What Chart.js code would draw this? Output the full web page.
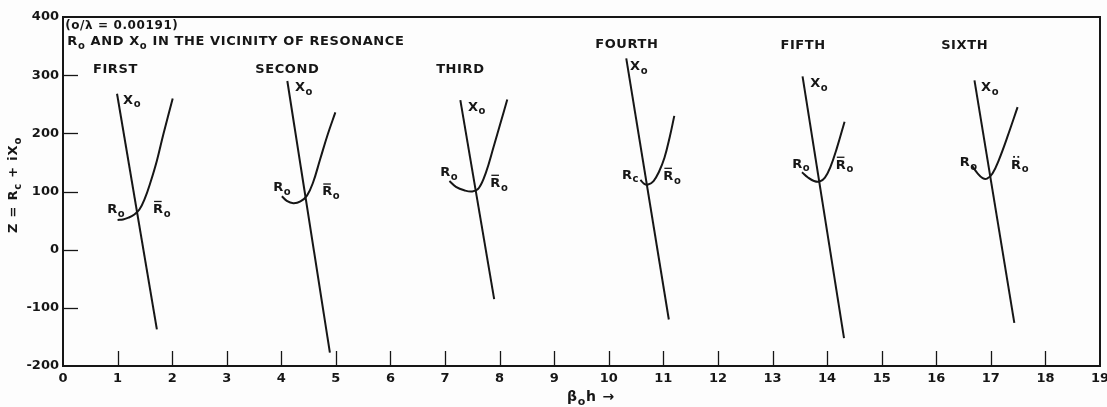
<!DOCTYPE html>
<html>
<head>
<meta charset="utf-8">
<script src="https://cdn.jsdelivr.net/npm/chart.js@4"></script>
<style>
  html, body { margin: 0; padding: 0; background: #fdfdfd; }
  #wrap { width: 1107px; height: 407px; position: relative; }
</style>
</head>
<body>
<div id="wrap"><canvas id="c"></canvas></div>
<script>
// ---- Data ----
const resonances = ['FIRST', 'SECOND', 'THIRD', 'FOURTH', 'FIFTH', 'SIXTH'];
const xTicks = [0,1,2,3,4,5,6,7,8,9,10,11,12,13,14,15,16,17,18,19];
const yTicks = [-200,-100,0,100,200,300,400];

// Reactance X0 (beta0*h, ohms)
const X0_FIRST  = [[0.99, 268], [1.72, -137]];
const X0_SECOND = [[4.11, 290], [4.89, -177]];
const X0_THIRD  = [[7.28, 257], [7.90, -85]];
const X0_FOURTH = [[10.32, 329], [11.10, -120]];
const X0_FIFTH  = [[13.55, 298], [14.31, -152]];
const X0_SIXTH  = [[16.70, 291], [17.43, -126]];

// Resistance R0 (beta0*h, ohms)
const R0_FIRST  = [[1.00,51],[1.10,52],[1.20,55],[1.30,60],[1.40,69],[1.50,88],[1.60,115],[1.72,153],[1.84,199],[2.01,260]];
const R0_SECOND = [[4.01,92],[4.10,84],[4.22,80],[4.35,83],[4.47,93],[4.58,115],[4.71,155],[4.85,198],[4.99,236]];
const R0_THIRD  = [[7.08,118],[7.20,108],[7.35,102],[7.50,100],[7.62,106],[7.75,133],[7.89,177],[8.02,219],[8.14,258]];
const R0_FOURTH = [[10.58,120],[10.65,113],[10.72,112],[10.82,118],[10.92,134],[11.02,158],[11.12,195],[11.20,230]];
const R0_FIFTH  = [[13.54,133],[13.65,124],[13.76,118],[13.86,117],[13.96,124],[14.06,142],[14.18,175],[14.32,220]];
const R0_SIXTH  = [[16.65,145],[16.75,132],[16.85,123],[16.93,122],[17.03,131],[17.15,155],[17.30,193],[17.49,245]];

const X0_ALL = [X0_FIRST, X0_SECOND, X0_THIRD, X0_FOURTH, X0_FIFTH, X0_SIXTH];
const R0_ALL = [R0_FIRST, R0_SECOND, R0_THIRD, R0_FOURTH, R0_FIFTH, R0_SIXTH];

const INK = '#161616';
const FAMILY = '"DejaVu Sans", "Liberation Sans", sans-serif';

const toPts = arr => arr.map(p => ({ x: p[0], y: p[1] }));
const datasets = [];
resonances.forEach((name, i) => {
  datasets.push({ label: 'X0 ' + name, data: toPts(X0_ALL[i]), showLine: true,
    borderColor: INK, borderWidth: 2, pointRadius: 0, tension: 0 });
  datasets.push({ label: 'R0 ' + name, data: toPts(R0_ALL[i]), showLine: true,
    borderColor: INK, borderWidth: 2, pointRadius: 0, tension: 0.4 });
});

// ---- rich text helper (subscripts, overbars) ----
function drawRich(ctx, x, y, parts, size, align, rotate) {
  ctx.save();
  ctx.translate(x, y);
  if (rotate) ctx.rotate(rotate);
  ctx.textBaseline = 'middle';
  ctx.textAlign = 'left';
  let w = 0;
  parts.forEach(p => {
    ctx.font = 'bold ' + (p.sub ? Math.round(size * 0.75) : size) + 'px ' + FAMILY;
    p._w = ctx.measureText(p.t).width;
    w += p._w;
  });
  let cx = align === 'center' ? -w / 2 : 0;
  parts.forEach(p => {
    ctx.font = 'bold ' + (p.sub ? Math.round(size * 0.75) : size) + 'px ' + FAMILY;
    ctx.fillStyle = INK;
    const dy = p.sub ? size * 0.35 : 0;
    ctx.fillText(p.t, cx, dy);
    if (p.bar) {
      ctx.strokeStyle = INK; ctx.lineWidth = 1.3;
      ctx.beginPath(); ctx.moveTo(cx + 1, -size * 0.62); ctx.lineTo(cx + p._w - 2, -size * 0.62); ctx.stroke();
    }
    if (p.dots) {
      ctx.fillRect(cx + p._w * 0.2, -size * 0.72, 1.8, 1.8);
      ctx.fillRect(cx + p._w * 0.6, -size * 0.72, 1.8, 1.8);
    }
    cx += p._w;
  });
  ctx.restore();
}

const R = (bar, dots, sub) => [{ t: 'R', bar: bar, dots: dots }, { t: sub || 'o', sub: true }];
const X = () => [{ t: 'X' }, { t: 'o', sub: true }];

const annotPlugin = {
  id: 'annot',
  beforeDraw(chart) {
    const ctx = chart.ctx;
    ctx.save();
    ctx.fillStyle = '#fdfdfd';
    ctx.fillRect(0, 0, chart.width, chart.height);
    ctx.restore();
  },
  afterDraw(chart) {
    const ctx = chart.ctx;
    const xs = chart.scales.x, ys = chart.scales.y;
    const a = chart.chartArea;
    ctx.save();
    // frame
    ctx.strokeStyle = INK;
    ctx.lineWidth = 2;
    ctx.strokeRect(a.left, a.top, a.right - a.left, a.bottom - a.top);
    // inward ticks
    ctx.lineWidth = 1.3;
    xTicks.forEach(v => {
      if (v === 0 || v === 19) return;
      const px = Math.round(xs.getPixelForValue(v)) + 0.5;
      ctx.beginPath(); ctx.moveTo(px, a.bottom); ctx.lineTo(px, a.bottom - 15); ctx.stroke();
    });
    yTicks.forEach(v => {
      if (v === -200 || v === 400) return;
      const py = Math.round(ys.getPixelForValue(v)) + 0.5;
      ctx.beginPath(); ctx.moveTo(a.left, py); ctx.lineTo(a.left + 15, py); ctx.stroke();
    });

    const P = (x, y) => [xs.getPixelForValue(x), ys.getPixelForValue(y)];
    const txt = (s, x, y, size, align) => {
      const [px, py] = P(x, y);
      ctx.font = 'bold ' + size + 'px ' + FAMILY;
      ctx.fillStyle = INK;
      ctx.textAlign = align; ctx.textBaseline = 'middle';
      ctx.fillText(s, px, py);
    };
    ctx.letterSpacing = '0.6px';
    txt('(o/\u03bb = 0.00191)', 0.04, 384, 12, 'left');
    // title line with subscripts
    {
      const [px, py] = P(0.08, 357);
      drawRich(ctx, px, py, [
        { t: 'R' }, { t: 'o', sub: true }, { t: ' AND X' }, { t: 'o', sub: true },
        { t: ' IN THE VICINITY OF RESONANCE' }], 13, 'left');
    }
    const namePos = [[0.96, 310], [4.11, 310], [7.28, 309], [10.33, 353], [13.56, 350], [16.52, 350]];
    resonances.forEach((n, i) => txt(n, namePos[i][0], namePos[i][1], 13, 'center'));

    const x0Pos = [[1.10, 257], [4.25, 278], [7.42, 245], [10.39, 315], [13.69, 285], [16.82, 278]];
    x0Pos.forEach(p => { const [px, py] = P(p[0], p[1]); drawRich(ctx, px, py, X(), 13, 'left'); });

    const rLeft = [[0.81, 68], [3.85, 106], [6.91, 132], [10.24, 128], [13.36, 147], [16.43, 150]];
    const rRight = [[1.65, 69], [4.75, 99], [7.83, 114], [11.00, 126], [14.16, 145], [17.37, 145]];
    rLeft.forEach((p, i) => { const [px, py] = P(p[0], p[1]);
      drawRich(ctx, px, py, R(false, false, i === 3 ? 'c' : 'o'), 13, 'left'); });
    rRight.forEach((p, i) => { const [px, py] = P(p[0], p[1]);
      drawRich(ctx, px, py, R(i !== 5, i === 5, 'o'), 13, 'left'); });

    ctx.letterSpacing = '0.8px';
    // y axis title (rotated)
    drawRich(ctx, 14, 185, [{ t: 'Z = R' }, { t: 'c', sub: true }, { t: ' + iX' }, { t: 'o', sub: true }], 13, 'center', -Math.PI / 2);
    // x axis title
    drawRich(ctx, 591, 397, [{ t: '\u03b2' }, { t: 'o', sub: true }, { t: 'h \u2192' }], 14, 'center');
    ctx.restore();
  }
};

new Chart(document.getElementById('c'), {
  type: 'scatter',
  data: { datasets },
  options: {
    responsive: true,
    maintainAspectRatio: false,
    animation: false,
    layout: { padding: { top: 17, right: 7, left: 0, bottom: 0 } },
    plugins: { legend: { display: false }, tooltip: { enabled: false }, title: { display: false } },
    scales: {
      x: {
        type: 'linear', min: 0, max: 19,
        afterBuildTicks: s => { s.ticks = xTicks.map(v => ({ value: v })); },
        afterFit: s => { s.height = 41; s.paddingRight = 0; s.paddingLeft = 0; },
        grid: { display: false, drawTicks: false },
        border: { display: false },
        ticks: { color: INK, font: { family: FAMILY, size: 13, weight: 'bold' }, padding: 5, maxRotation: 0, autoSkip: false }
      },
      y: {
        type: 'linear', min: -200, max: 400,
        afterBuildTicks: s => { s.ticks = yTicks.map(v => ({ value: v })); },
        afterFit: s => { s.width = 63; s.paddingTop = 0; s.paddingBottom = 0; },
        grid: { display: false, drawTicks: false },
        border: { display: false },
        ticks: { color: INK, font: { family: FAMILY, size: 13, weight: 'bold' }, padding: 4 }
      }
    }
  },
  plugins: [annotPlugin]
});
</script>
</body>
</html>
